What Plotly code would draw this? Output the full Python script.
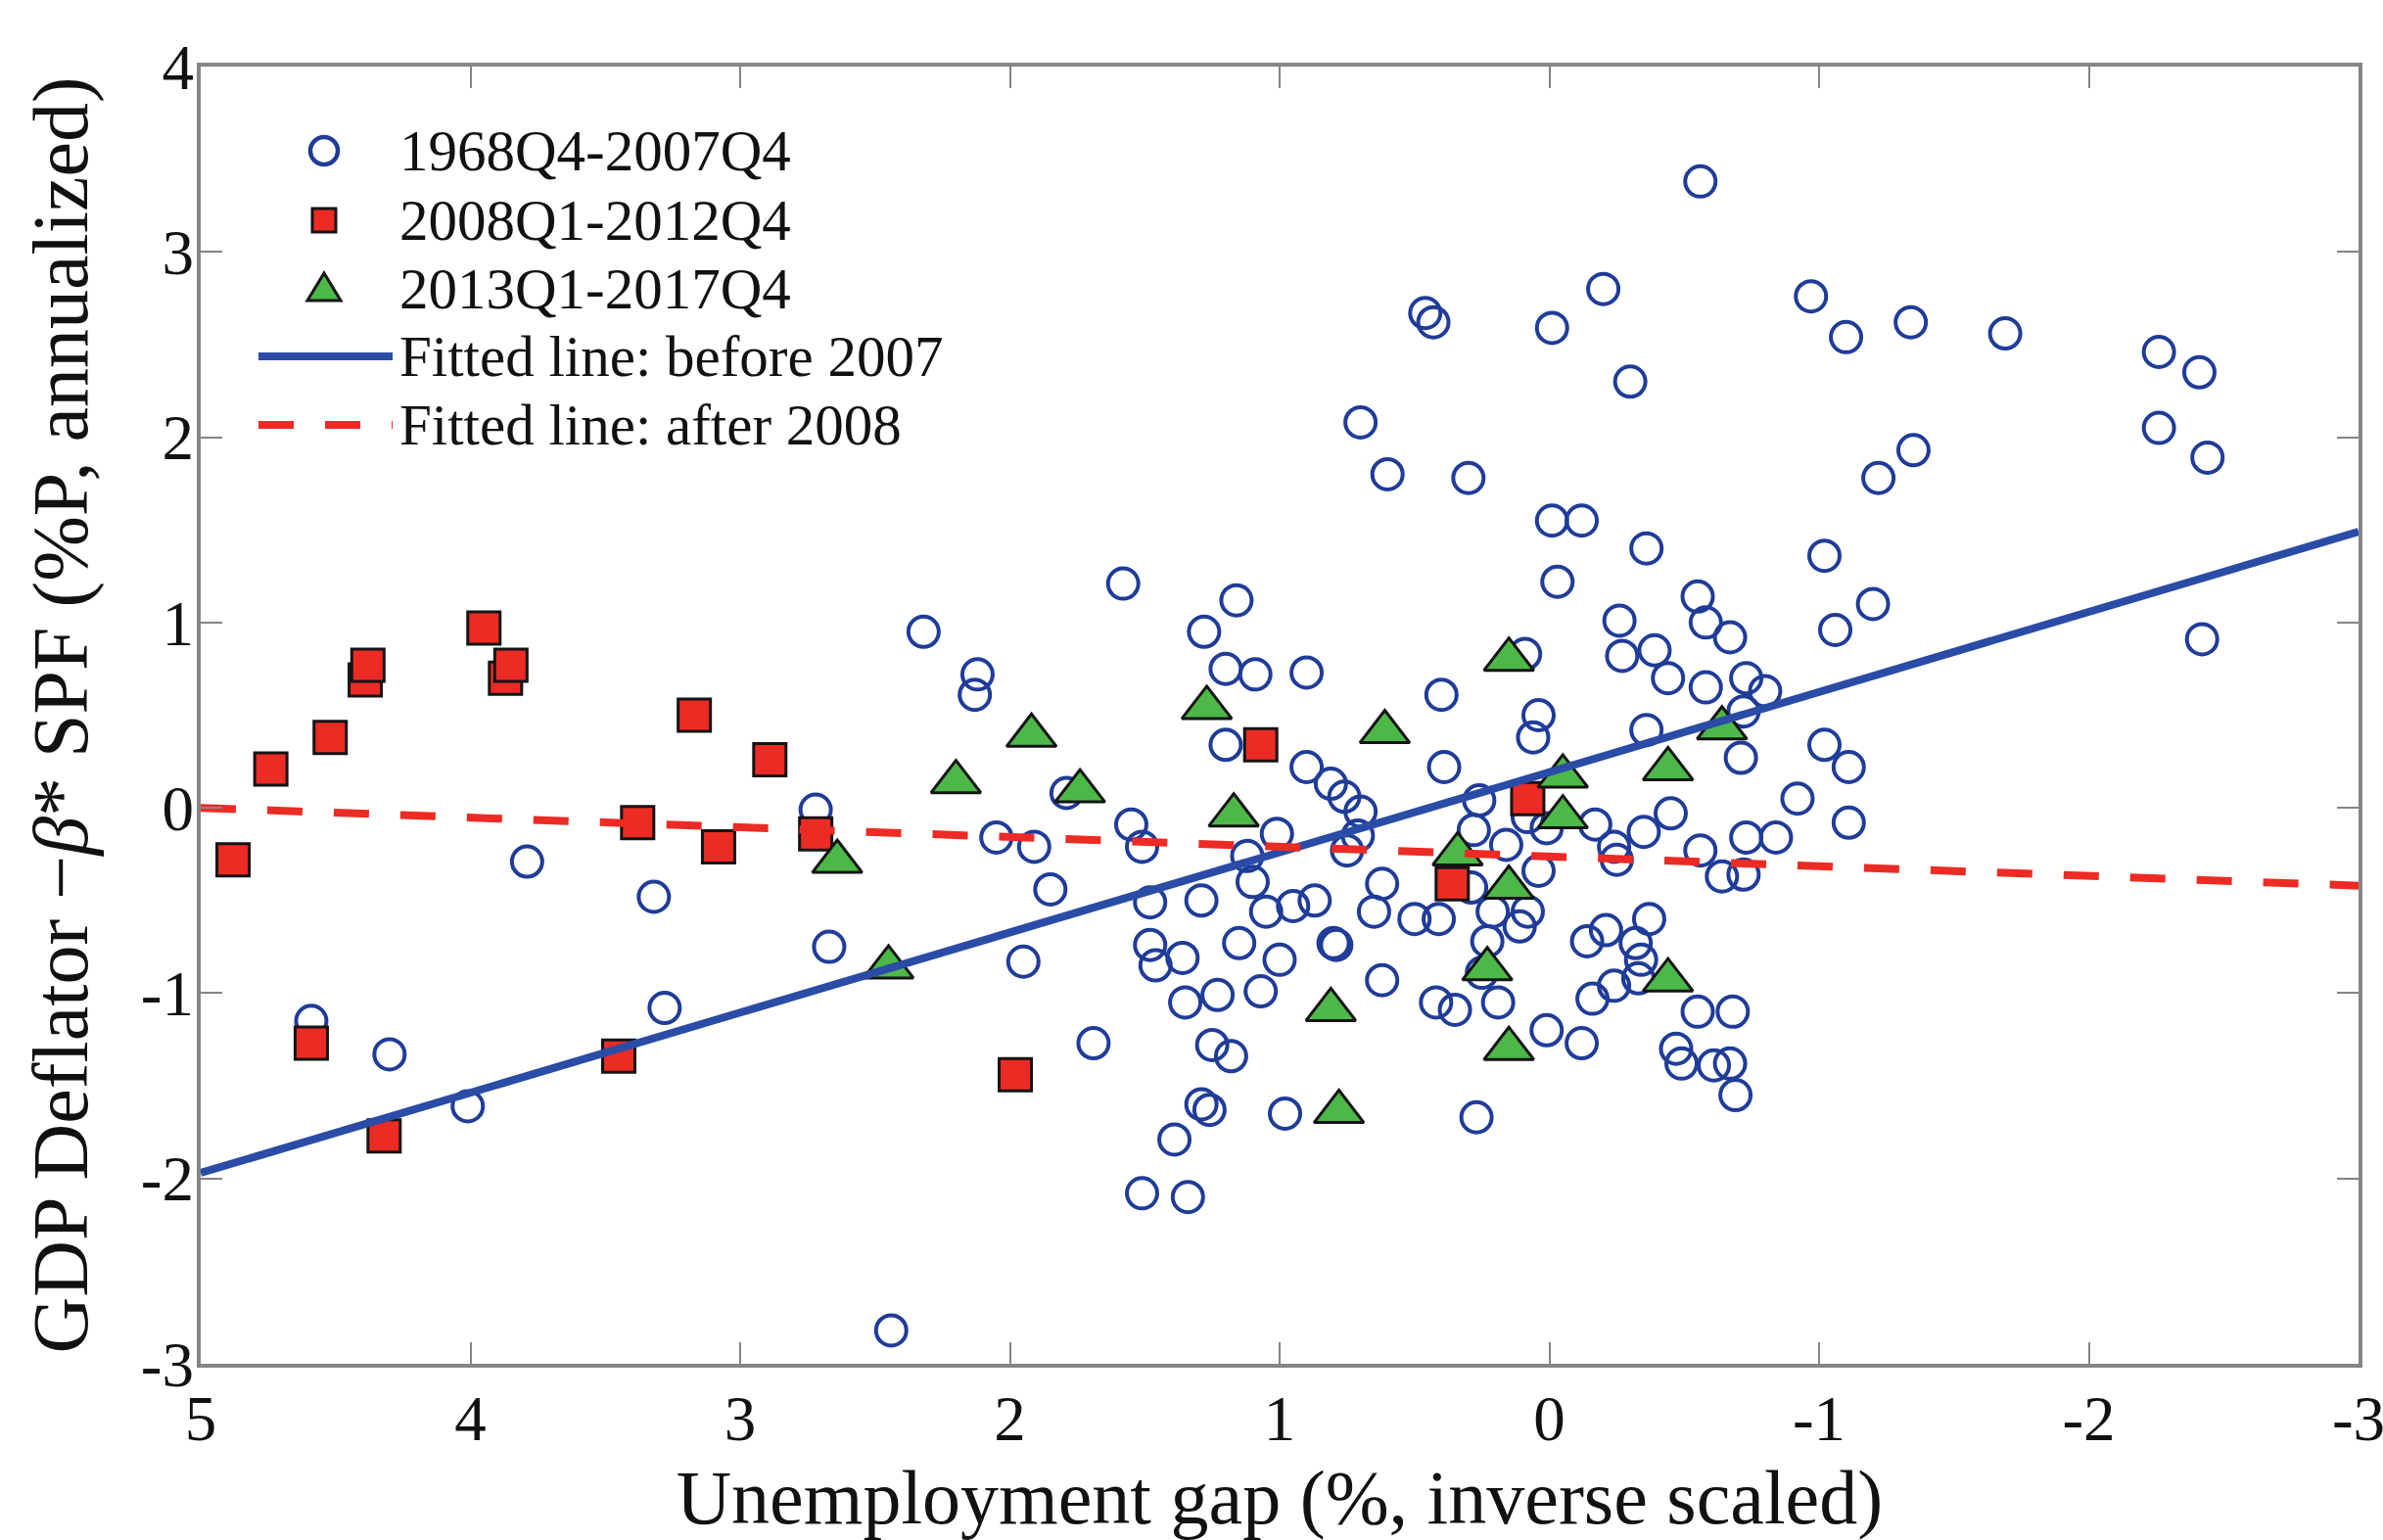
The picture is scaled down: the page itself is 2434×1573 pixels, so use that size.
import plotly.graph_objects as go

# ---------------------------------------------------------------------------
# Data: unemployment gap (inverse scaled) vs. GDP deflator minus beta*SPF
# ---------------------------------------------------------------------------
gap_pre = [
    4.59, 4.30, 4.01, 3.79, 3.32, 3.28, 2.72, 2.67, 2.44, 2.32, 2.12, 2.13,
    2.05, 1.95, 1.91, 1.85, 1.79, 1.69,
    1.58, 1.55, 1.51, 1.48, 1.48, 1.51, 1.39, 1.34, 1.36, 1.35, 1.28, 1.20,
    1.29, 1.29, 1.25, 1.23, 1.20, 1.18, 1.16, 1.15, 1.12, 1.10, 1.09, 1.07,
    1.05, 1.01, 1.00, 0.98, 0.95, 0.90, 0.90, 0.87, 0.81, 0.76, 0.80, 0.75,
    0.70, 0.70, 0.65, 0.62, 0.62, 0.60, 0.50, 0.46, 0.43, 0.42, 0.40, 0.39,
    0.41, 0.35, 0.30, 0.29, 0.28, 0.27, 0.26, 0.25, 0.23, 0.21, 0.19, 0.16,
    0.11, 0.08, 0.71, 0.79, 0.09, 0.04, 1.26, 1.46, 0.08,
    0.06, 0.04, 0.01, 0.01, -0.01, -0.01, -0.03, -0.12, -0.12, -0.14,
    -0.16, -0.17, -0.20, -0.21, -0.24, -0.25, -0.26, -0.27, -0.30, -0.32,
    -0.34, -0.35, -0.36, -0.36, -0.37, -0.39, -0.44, -0.45, -0.47, -0.49,
    -0.55, -0.55, -0.56, -0.56, -0.58, -0.58, -0.64, -0.67, -0.67, -0.68,
    -0.72, -0.71, -0.72, -0.73, -0.73, -0.69, -0.84, -0.92, -0.97, -1.02,
    -1.02, -1.06, -1.10, -1.11, -1.11, -1.20, -1.22, -1.34, -1.35, -1.69,
    -2.26, -2.26, -2.41, -2.44, -2.42, -0.24, -0.61, -0.80, -0.33,
]
infl_pre = [
    -1.15, -1.33, -1.61, -0.29, -0.48, -1.08, -0.01, -0.75, -2.82, 0.95, 0.72, 0.61,
    -0.16, -0.83, -0.21, -0.44, 0.08, -1.27,
    1.21, -0.09, -0.21, -0.51, -0.74, -2.08, -1.79, -2.10, -0.81, -1.05, 0.95, 0.34,
    -0.50, -1.60, -1.28, -1.01, 0.75, -1.34, 1.12, -0.73, -0.26, -0.40, 0.72, -0.99,
    -0.56, -0.14, -0.82, -1.65, -0.53, 0.73, 0.22, -0.50, 0.13, 0.06, -0.73, -0.23,
    2.08, -0.02, -0.56, -0.41, -0.93, 1.80, -0.60, 2.67, 2.62, -1.05, 0.61, 0.22,
    -0.60, -1.09, 1.78, -0.43, -0.12, -1.67, 0.04, -0.89, -0.72, -0.56, -1.05, -0.20,
    -0.64, -0.56, -0.15, -0.74, 0.83, 0.50, -1.63, -0.85, -0.05,
    0.38, -0.34, -0.11, -1.20, 2.59, 1.55, 1.22, 1.55, -1.27, -0.72,
    -1.03, -0.09, 2.80, -0.66, -0.21, -0.28, 1.01, 0.82, 2.30, -0.73,
    -0.82, -0.13, 1.40, 0.42, -0.60, 0.85, 0.70, -0.03, -1.30, -1.38,
    -1.10, 1.14, 3.38, -0.23, 0.65, 1.00, -0.37, 0.92, -1.38, -1.10,
    0.52, 0.27, -0.36, 0.70, -0.16, -1.55, -0.16, 0.05, 2.76, 1.36,
    0.34, 0.96, 2.54, 0.22, -0.08, 1.10, 1.78, 2.62, 1.93, 2.56,
    2.46, 2.05, 2.35, 1.89, 0.91, -0.96, -1.39, 0.63, -0.92,
]

gap_crisis = [4.88, 4.74, 4.52, 4.39, 4.38, 3.95, 3.87, 3.85, 4.59, 4.32,
              3.45, 3.38, 3.17, 3.08, 2.89, 2.72, 1.98, 1.07, 0.36, 0.08]
infl_crisis = [-0.28, 0.21, 0.38, 0.69, 0.77, 0.97, 0.70, 0.77, -1.27, -1.77,
               -1.34, -0.08, 0.50, -0.21, 0.26, -0.14, -1.44, 0.34, -0.41, 0.05]

gap_recent = [2.64, 2.45, 2.20, 1.92, 1.74, 1.27, 1.17, 0.81, 0.78, 0.61,
              0.34, 0.23, 0.15, 0.15, 0.15, -0.05, -0.05, -0.44, -0.44, -0.64]
infl_recent = [-0.29, -0.86, 0.14, 0.39, 0.09, 0.54, -0.04, -1.09, -1.64, 0.41,
               -0.25, -0.87, -0.43, -1.30, 0.80, 0.17, -0.05, 0.21, -0.93, 0.43]

# Fitted regression lines evaluated at the ends of the x range
fit_x = [5, -3]
fit_before_2007 = [-1.97, 1.49]
fit_after_2008 = [0.00, -0.42]

x_tickvals = [5, 4, 3, 2, 1, 0, -1, -2, -3]
x_ticktext = ["5", "4", "3", "2", "1", "0", "-1", "-2", "-3"]
y_tickvals = [-3, -2, -1, 0, 1, 2, 3, 4]
y_ticktext = ["-3", "-2", "-1", "0", "1", "2", "3", "4"]

series_labels = ["1968Q4-2007Q4", "2008Q1-2012Q4", "2013Q1-2017Q4",
                 "Fitted line: before 2007", "Fitted line: after 2008"]

# ---------------------------------------------------------------------------
SERIF = "Liberation Serif, Times New Roman, serif"
BLUE = "#1f3c98"
LINE_BLUE = "#2a4ca6"
RED = "#ec2b24"
GREEN = "#4db848"
EDGE = "#141414"
FRAME = "#858585"
TEXT = "#111111"
DASH = "36px,32px"

W, H = 2434, 1573
M_L, M_R, M_T, M_B = 205, 25, 68, 180
PLOT_W = W - M_L - M_R
PLOT_H = H - M_T - M_B


def px_to_paper_x(px):
    return (px - M_L) / PLOT_W


def px_to_paper_y(py):
    return 1 - (py - M_T) / PLOT_H


fig = go.Figure()

fig.add_trace(go.Scatter(
    x=gap_pre, y=infl_pre, mode="markers", name=series_labels[0], showlegend=False,
    marker=dict(symbol="circle-open", size=31, color=BLUE, line=dict(width=4, color=BLUE)),
))
fig.add_trace(go.Scatter(
    x=gap_crisis, y=infl_crisis, mode="markers", name=series_labels[1], showlegend=False,
    marker=dict(symbol="square", size=33, color=RED, line=dict(width=3, color=EDGE)),
))
fig.add_trace(go.Scatter(
    x=gap_recent, y=infl_recent, mode="markers", name=series_labels[2], showlegend=False,
    marker=dict(symbol="triangle-up", size=44, color=GREEN, line=dict(width=3, color=EDGE)),
))
fig.add_trace(go.Scatter(
    x=fit_x, y=fit_before_2007, mode="lines", name=series_labels[3], showlegend=False,
    line=dict(color=LINE_BLUE, width=8),
))
fig.add_trace(go.Scatter(
    x=fit_x, y=fit_after_2008, mode="lines", name=series_labels[4], showlegend=False,
    line=dict(color=RED, width=8, dash=DASH),
))

# ---------------------------------------------------------------------------
# Legend (upper left, no box): sample glyphs drawn as pixel-sized shapes
# ---------------------------------------------------------------------------
row_px = [154, 225, 295, 364, 434]
glyph_cx = px_to_paper_x(331)
line_x0, line_x1 = px_to_paper_x(264), px_to_paper_x(401)
text_x = px_to_paper_x(406)

shapes = []
annotations = []
rows = [px_to_paper_y(r) for r in row_px]

shapes.append(dict(type="circle", xref="paper", yref="paper", xsizemode="pixel", ysizemode="pixel",
                   xanchor=glyph_cx, yanchor=rows[0], x0=-14, x1=14, y0=-14, y1=14,
                   line=dict(color=BLUE, width=4.5), fillcolor="rgba(0,0,0,0)"))
shapes.append(dict(type="rect", xref="paper", yref="paper", xsizemode="pixel", ysizemode="pixel",
                   xanchor=glyph_cx, yanchor=rows[1], x0=-12, x1=12, y0=-12, y1=12,
                   line=dict(color=EDGE, width=3), fillcolor=RED))
shapes.append(dict(type="path", xref="paper", yref="paper", xsizemode="pixel", ysizemode="pixel",
                   xanchor=glyph_cx, yanchor=rows[2], path="M -17 -12 L 17 -12 L 0 16 Z",
                   line=dict(color=EDGE, width=3), fillcolor=GREEN))
shapes.append(dict(type="line", xref="paper", yref="paper",
                   x0=line_x0, x1=line_x1, y0=rows[3], y1=rows[3],
                   line=dict(color=LINE_BLUE, width=8)))
shapes.append(dict(type="line", xref="paper", yref="paper",
                   x0=line_x0, x1=line_x1, y0=rows[4], y1=rows[4],
                   line=dict(color=RED, width=8, dash=DASH)))

for label, ry in zip(series_labels, rows):
    annotations.append(dict(text=label, xref="paper", yref="paper", x=text_x, y=ry,
                            xanchor="left", yanchor="middle", showarrow=False,
                            font=dict(family=SERIF, size=59, color=TEXT)))

# ---------------------------------------------------------------------------
axis_common = dict(
    showline=True, linecolor=FRAME, linewidth=4, mirror="ticks",
    ticks="inside", ticklen=22, tickwidth=2, tickcolor=FRAME,
    showgrid=False, zeroline=False, ticklabeloverflow="allow",
    tickfont=dict(family=SERIF, size=65, color=TEXT),
)

fig.update_xaxes(
    range=[5, -3], tickvals=x_tickvals, ticktext=x_ticktext,
    title=dict(text="Unemployment gap (%, inverse scaled)",
               font=dict(family=SERIF, size=78, color=TEXT), standoff=30),
    ticklabelstandoff=-4,
    **axis_common,
)
fig.update_yaxes(
    range=[-3, 4], tickvals=y_tickvals, ticktext=y_ticktext,
    title=dict(text="GDP Deflator \u2212<i>\u03b2</i>* SPF (%P, annualized)",
               font=dict(family=SERIF, size=80, color=TEXT), standoff=29),
    ticklabelstandoff=-10,
    **axis_common,
)

fig.update_layout(
    width=W, height=H,
    margin=dict(l=M_L, r=M_R, t=M_T, b=M_B, autoexpand=False),
    paper_bgcolor="white", plot_bgcolor="white",
    showlegend=False,
    shapes=shapes,
    annotations=annotations,
)

fig.write_html("out.html")
